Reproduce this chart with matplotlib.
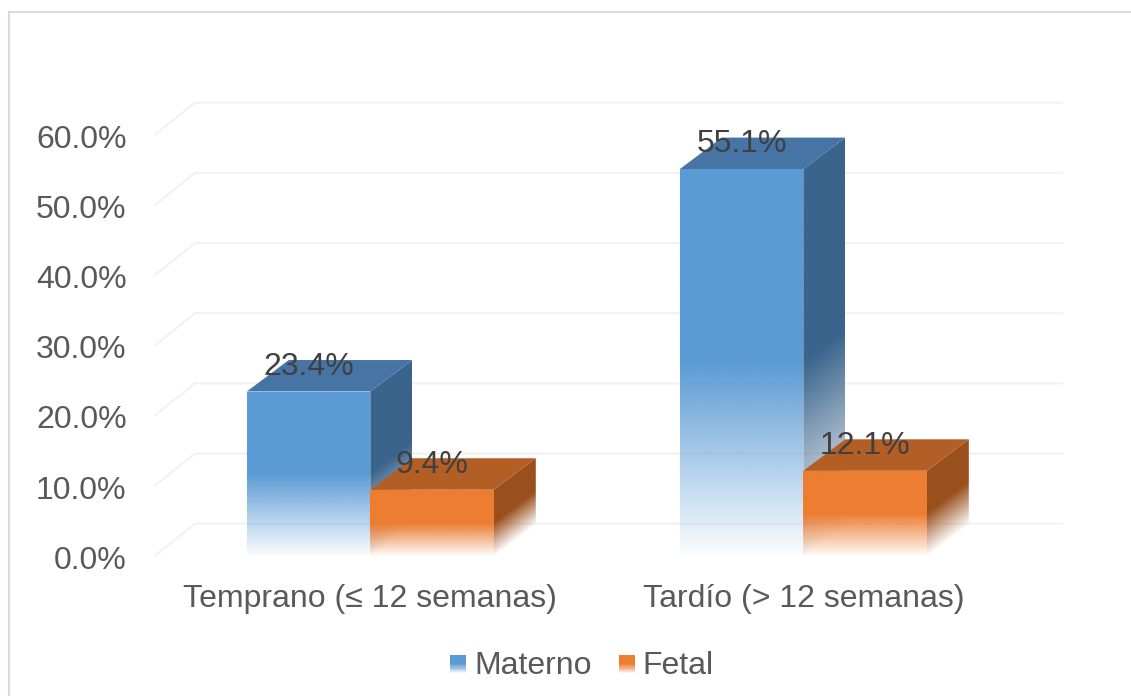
import numpy as np
import matplotlib
matplotlib.use("Agg")
import matplotlib.pyplot as plt
from matplotlib.colors import to_rgb
from matplotlib.patches import Polygon, Rectangle
from matplotlib.lines import Line2D
from matplotlib.transforms import ScaledTranslation

categories = ["Temprano (≤ 12 semanas)", "Tardío (> 12 semanas)"]
series_names = ["Materno", "Fetal"]
materno = [23.4, 55.1]
fetal = [9.4, 12.1]
tick_values = [0, 10, 20, 30, 40, 50, 60]

W, H = 1131, 696
FX0, FX1, FY0, FY60 = 155, 1022, 555.7, 134.7
PX_PER_CAT = 433.0
PX_PER_VAL = (FY0 - FY60) / 60.0
CAT0_PX = 370.3
DEPTH_X = 42.0 / PX_PER_CAT
DEPTH_Y = 31.5 / PX_PER_VAL
GRID_DX = 40.0 / PX_PER_CAT
GRID_DY = 32.0 / PX_PER_VAL
BAR_W = 123.5 / PX_PER_CAT
FONT = 23.0

COLORS = {
    "Materno": dict(front="#5B9BD5", top="#4675A5", side="#3A648C"),
    "Fetal": dict(front="#ED7D31", top="#B35E24", side="#99501D"),
}

plt.rcParams["font.family"] = ["Liberation Sans", "DejaVu Sans"]
fig = plt.figure(figsize=(W / 100, H / 100), dpi=100)
fig.patch.set_facecolor("white")
ax = fig.add_axes([FX0 / W, 1 - FY0 / H, (FX1 - FX0) / W, (FY0 - FY60) / H])
ax.set_xlim((FX0 - CAT0_PX) / PX_PER_CAT, (FX1 - CAT0_PX) / PX_PER_CAT)
ax.set_ylim(0, 60)
ax.patch.set_visible(False)
for s in ax.spines.values():
    s.set_visible(False)

fig.add_artist(Line2D([9 / W, 9 / W, 1.01], [-0.01, 1 - 12 / H, 1 - 12 / H], transform=fig.transFigure,
                      color="#D9D9D9", linewidth=1.5, solid_joinstyle="miter"))

xl = ax.get_xlim()
for v in tick_values:
    ax.plot([xl[0], xl[0] + GRID_DX, xl[1] + GRID_DX], [v, v + GRID_DY, v + GRID_DY],
            color="#F2F2F2", lw=1.5, clip_on=False, zorder=1, solid_joinstyle="miter")


def fade(t):
    return np.clip(0.02 + t / 0.5 * 0.98, 0, 1)


def gradient_face(x0, x1, val, color, sheared, z):
    """Face fading towards its base. sheared=True follows the depth slope."""
    xs = np.linspace(x0, x1 + (DEPTH_X if sheared else 0), 80)
    top = val + (DEPTH_Y if sheared else 0)
    ys = np.linspace(0, top, 400)
    X, Y = np.meshgrid(xs, ys)
    base = (X - x0) / DEPTH_X * DEPTH_Y if sheared else 0 * X
    t = (Y - base) / val
    rgba = np.zeros(X.shape + (4,))
    rgba[..., :3] = to_rgb(color)
    rgba[..., 3] = fade(t)
    im = ax.imshow(rgba, origin="lower", aspect="auto", interpolation="bilinear",
                   extent=(xs[0], xs[-1], ys[0], ys[-1]), zorder=z)
    if sheared:
        pts = [(x0, 0), (x0 + DEPTH_X, DEPTH_Y), (x0 + DEPTH_X, top), (x0, val)]
    else:
        pts = [(x0, 0), (x1, 0), (x1, val), (x0, val)]
    clip = Polygon(pts, closed=True, transform=ax.transData)
    im.set_clip_path(clip)


def bar3d(x0, val, name, z):
    c = COLORS[name]
    x1 = x0 + BAR_W
    gradient_face(x1, x1, val, c["side"], True, z)
    ax.add_patch(Polygon([(x0, val), (x1, val), (x1 + DEPTH_X, val + DEPTH_Y), (x0 + DEPTH_X, val + DEPTH_Y)],
                         closed=True, facecolor=c["top"], edgecolor="none", zorder=z, clip_on=False))
    gradient_face(x0, x1, val, c["front"], False, z + 0.1)


LABEL_DROP = 6.8 / PX_PER_VAL
for i, (m, f) in enumerate(zip(materno, fetal)):
    bar3d(i - BAR_W, m, "Materno", 3)
    bar3d(i, f, "Fetal", 4)
    ax.text(i - BAR_W / 2, m + DEPTH_Y - LABEL_DROP, f"{m:.1f}%", ha="center", va="center",
            fontsize=FONT, color="#404040", zorder=6, clip_on=False)
    ax.text(i + BAR_W / 2, f + DEPTH_Y - LABEL_DROP, f"{f:.1f}%", ha="center", va="center",
            fontsize=FONT, color="#404040", zorder=6, clip_on=False)

ax.set_xlim(xl)
ax.set_ylim(0, 60)
ax.set_yticks(tick_values)
ax.set_yticklabels([f"{v:.1f}%" for v in tick_values], va="center_baseline")
ax.set_xticks(range(len(categories)))
ax.set_xticklabels(categories)
ax.tick_params(axis="y", length=0, pad=20.5, labelsize=FONT, labelcolor="#595959")
ax.tick_params(axis="x", length=0, pad=20.2, labelsize=FONT, labelcolor="#595959")
nudge = ScaledTranslation(0, -1.5 / 100, fig.dpi_scale_trans)
for lab in ax.get_yticklabels():
    lab.set_transform(lab.get_transform() + nudge)


class FadeHandler:
    def __init__(self, color):
        self.color = color

    def legend_artist(self, legend, orig_handle, fontsize, handlebox):
        x0, y0 = handlebox.xdescent, handlebox.ydescent
        w, h = handlebox.width, handlebox.height
        y0 += 2.5
        n = 16
        for k in range(n):
            t = (k + 0.5) / n
            handlebox.add_artist(Rectangle((x0, y0 + h * k / n), w, h / n, facecolor=self.color,
                                           edgecolor="none", alpha=float(fade(t)),
                                           transform=handlebox.get_transform()))
        return handlebox


handles = [Line2D([], [], label=n) for n in series_names]
leg = ax.legend(handles=handles, labels=series_names, loc="center", frameon=False,
                bbox_to_anchor=(582 / W, 1 - 666.5 / H), bbox_transform=fig.transFigure,
                ncol=2, fontsize=FONT, handlelength=0.5, handleheight=0.5, handletextpad=0.25,
                columnspacing=0.85, labelcolor="#595959",
                handler_map={handles[i]: FadeHandler(COLORS[series_names[i]]["front"]) for i in range(2)})

fig.savefig("out.png", dpi=100)
